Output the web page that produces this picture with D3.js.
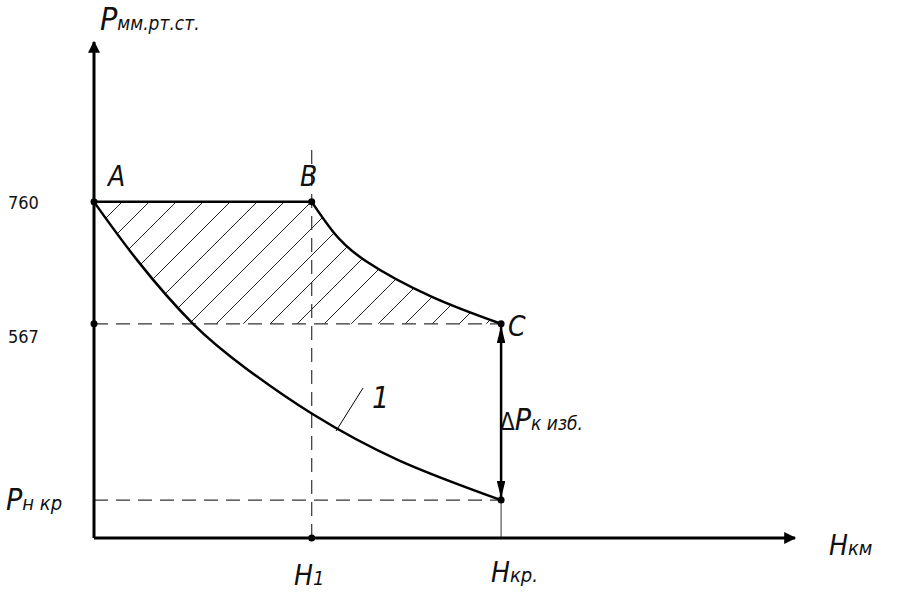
<!DOCTYPE html>
<html><head><meta charset="utf-8">
<script src="https://cdn.jsdelivr.net/npm/d3@7"></script>
<style>
body{margin:0;background:#fff}
text{font-family:"Liberation Sans Narrow","DejaVu Sans Condensed",sans-serif;font-style:italic;fill:#111}
</style></head><body>
<svg id="chart" width="900" height="596"></svg>
<script>
// schematic values (H in arbitrary km units, P in mm Hg)
var hTicks = [10, 18.7];            // H1, Hкр
var pTicks = [760, 567, 288];       // 760, 567, Pн кр
// curve 1: atmospheric pressure vs height
var curve1 = [[0,760],[2,667],[4.55,567],[7,496],[10,425],[14,351],[18.7,288]];
// curve B-C: pressure behind compressor
var curveBC = [[10,760],[11,712],[12.5,666],[15.5,610],[18.7,567]];

var svg = d3.select("#chart");
var x = d3.scaleLinear().domain([0, 32.2]).range([94, 795]);
var y = d3.scaleLinear().domain([228, 1013]).range([538, 42]);

var defs = svg.append("defs");
var pat = defs.append("pattern").attr("id","hatch").attr("patternUnits","userSpaceOnUse")
  .attr("width",27).attr("height",27);
pat.append("path").attr("d","M0,27 L27,0 M-3,3 L3,-3 M24,30 L30,24").attr("stroke","#222").attr("stroke-width",1);
defs.append("marker").attr("id","arr").attr("viewBox","0 0 10 10").attr("refX",9).attr("refY",5)
  .attr("markerWidth",7).attr("markerHeight",4).attr("orient","auto-start-reverse")
  .append("path").attr("d","M0,0 L10,5 L0,10 Z").attr("fill","#000");
defs.append("marker").attr("id","arrBig").attr("viewBox","0 0 10 10").attr("refX",10).attr("refY",5)
  .attr("markerWidth",7).attr("markerHeight",3.5).attr("orient","auto-start-reverse")
  .attr("preserveAspectRatio","none")
  .append("path").attr("d","M0,0 L10,5 L0,10 Z").attr("fill","#000");

var line = d3.line().x(function(d){return x(d[0]);}).y(function(d){return y(d[1]);}).curve(d3.curveNatural);

// hatched region
var idx = curve1.findIndex(function(d){return d[1]===567;});
var lower = curve1.slice(0, idx+1).reverse();
var dPath = "M"+x(0)+","+y(760)+" L"+x(10)+","+y(760)+" "+
  line(curveBC).slice(1) + " L"+ x(lower[0][0])+","+y(567) + " " + line(lower).slice(1) + " Z";
svg.append("path").attr("d", dPath).attr("fill","url(#hatch)").attr("stroke","none");

// dashed guides
var dash = "14,8";
svg.append("line").attr("x1",x(hTicks[0])).attr("x2",x(hTicks[0])).attr("y1",y(228)).attr("y2",145)
  .attr("stroke","#333").attr("stroke-dasharray",dash).attr("stroke-width",1.2);
svg.append("line").attr("x1",x(0)).attr("x2",x(hTicks[1])).attr("y1",y(567)).attr("y2",y(567))
  .attr("stroke","#333").attr("stroke-dasharray",dash).attr("stroke-width",1.2);
svg.append("line").attr("x1",x(0)).attr("x2",x(hTicks[1])).attr("y1",y(288)).attr("y2",y(288))
  .attr("stroke","#333").attr("stroke-dasharray",dash).attr("stroke-width",1.2);
svg.append("line").attr("x1",x(hTicks[1])).attr("x2",x(hTicks[1])).attr("y1",y(288)).attr("y2",y(228))
  .attr("stroke","#333").attr("stroke-width",1);

// axes
svg.append("line").attr("x1",x(0)).attr("x2",x(0)).attr("y1",y(228)).attr("y2",y(1013))
  .attr("stroke","#000").attr("stroke-width",3).attr("marker-end","url(#arr)");
svg.append("line").attr("x1",x(0)).attr("x2",x(32.2)).attr("y1",y(228)).attr("y2",y(228))
  .attr("stroke","#000").attr("stroke-width",3).attr("marker-end","url(#arr)");

// A-B and curves
svg.append("line").attr("x1",x(0)).attr("x2",x(10)).attr("y1",y(760)).attr("y2",y(760))
  .attr("stroke","#000").attr("stroke-width",2.5);
svg.append("path").attr("d",line(curveBC)).attr("fill","none").attr("stroke","#000").attr("stroke-width",2.5);
svg.append("path").attr("d",line(curve1)).attr("fill","none").attr("stroke","#000").attr("stroke-width",2.5);

// delta P double arrow
svg.append("line").attr("x1",x(hTicks[1])).attr("x2",x(hTicks[1])).attr("y1",y(567)+2).attr("y2",y(288)-2)
  .attr("stroke","#000").attr("stroke-width",2.5)
  .attr("marker-start","url(#arrBig)").attr("marker-end","url(#arrBig)");

// dots
var dots = [[0,760],[10,760],[18.7,567],[0,567],[18.7,288],[10,228]];
svg.selectAll("circle.pt").data(dots).enter().append("circle").attr("class","pt")
  .attr("cx",function(d){return x(d[0]);}).attr("cy",function(d){return y(d[1]);}).attr("r",3.5).attr("fill","#000");

// leader for "1"
svg.append("line").attr("x1",363).attr("y1",388).attr("x2",336).attr("y2",431).attr("stroke","#000").attr("stroke-width",1);

function t(px,py,size,txt,style){
  var e = svg.append("text").attr("x",px).attr("y",py).attr("font-size",size).text(txt);
  if(style==="normal") e.style("font-style","normal");
  return e;
}
var pl = svg.append("text").attr("x",100).attr("y",30);
pl.append("tspan").attr("font-size",32).text("P");
pl.append("tspan").attr("font-size",19).text("мм.рт.ст.");
t(108,186,28,"A");
t(300,186,28,"B");
t(508,336,28,"C");
t(8,209,18,pTicks[0],"normal");
t(8,343,18,pTicks[1],"normal");
var pn = svg.append("text").attr("x",6).attr("y",510);
pn.append("tspan").attr("font-size",30).text("P");
pn.append("tspan").attr("font-size",20).text("н кр");
t(372,408,30,"1");
var dp = svg.append("text").attr("x",500).attr("y",430);
dp.append("tspan").attr("font-size",24).style("font-style","normal").text("Δ");
dp.append("tspan").attr("font-size",30).text("P");
dp.append("tspan").attr("font-size",19).text("к изб.");
var h1 = svg.append("text").attr("x",294).attr("y",585);
h1.append("tspan").attr("font-size",28).text("H");
h1.append("tspan").attr("font-size",20).text("1");
var hk = svg.append("text").attr("x",491).attr("y",582);
hk.append("tspan").attr("font-size",28).text("H");
hk.append("tspan").attr("font-size",20).text("кр.");
var hm = svg.append("text").attr("x",829).attr("y",555);
hm.append("tspan").attr("font-size",28).text("H");
hm.append("tspan").attr("font-size",20).text("км");
</script>
</body></html>
